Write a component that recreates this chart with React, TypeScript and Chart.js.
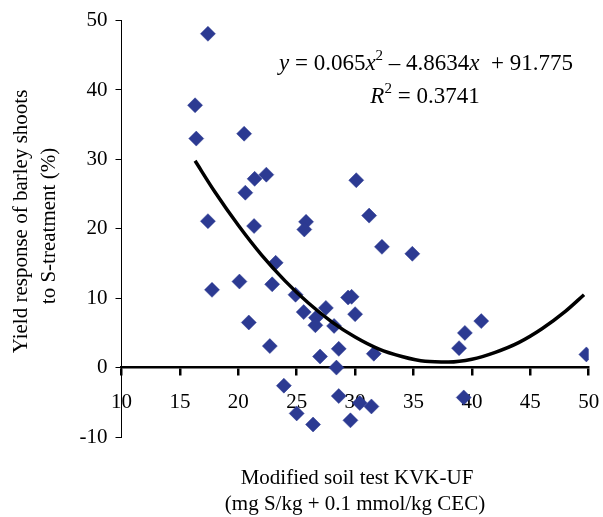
import React, { useEffect, useRef } from 'react';
import { Chart, registerables } from 'chart.js';

Chart.register(...registerables);

// Scatter observations (x: modified soil test KVK-UF, y: yield response %)
const soilTest = [
  17.4, 16.3, 16.4, 20.5, 20.6, 21.4, 22.4, 17.4, 21.35, 25.8, 25.65, 30.1, 31.2,
  32.3, 34.9, 23.2, 20.1, 17.75, 22.9, 24.9, 27.5, 25.6, 26.65, 26.6, 28.2, 29.4,
  29.7, 30.0, 20.9, 22.7, 28.6, 27.0, 31.6, 28.4, 23.9, 28.6, 25.0, 26.4, 29.6,
  30.4, 31.4, 40.8, 39.4, 38.9, 39.3, 49.8,
];
const yieldResponse = [
  48.1, 37.8, 33.0, 33.7, 25.2, 27.2, 27.8, 21.1, 20.4, 21.0, 19.9, 27.0, 21.9,
  17.4, 16.4, 15.1, 12.4, 11.2, 12.0, 10.5, 8.6, 8.0, 7.2, 6.1, 6.0, 10.1,
  10.2, 7.7, 6.5, 3.1, 2.7, 1.6, 2.0, 0.0, -2.6, -4.1, -6.6, -8.2, -7.6,
  -5.1, -5.6, 6.7, 5.0, 2.8, -4.3, 1.9,
];

// Trend curve
const trendX = [16.3, 18, 20, 22, 24, 26, 28, 30, 32, 34, 36, 38, 40, 42, 44, 46, 48, 49.6];
const trendY = [29.8, 25.3, 20.5, 16.2, 12.5, 9.3, 6.6, 4.4, 2.7, 1.6, 0.9, 0.8, 1.2, 2.2, 3.6, 5.6, 8.1, 10.5];

const xTickValues = [10, 15, 20, 25, 30, 35, 40, 45, 50];
const yTickValues = [-10, 0, 10, 20, 30, 40, 50];

const yTitleLines = ['Yield response of barley shoots', 'to S-treatment (%)'];
const xTitleLines = ['Modified soil test KVK-UF', '(mg S/kg + 0.1 mmol/kg CEC)'];
const equationLine = [
  { t: 'y', i: true },
  { t: ' = 0.065' },
  { t: 'x', i: true },
  { t: '2', s: true },
  { t: ' \u2013 4.8634' },
  { t: 'x', i: true },
  { t: '  + 91.775' },
];
const rSquaredLine = [
  { t: 'R', i: true },
  { t: '2', s: true },
  { t: ' = 0.3741' },
];

const FONT = '"Liberation Serif", serif';
const MARKER = '#2C3A92';

type Seg = { t: string; i?: boolean; s?: boolean };

function drawRich(ctx: CanvasRenderingContext2D, segs: Seg[], cx: number, baseline: number, size: number) {
  const fontFor = (s: Seg) =>
    `${s.i ? 'italic ' : 'normal '}normal ${s.s ? Math.round(size * 0.65) : size}px ${FONT}`;
  let total = 0;
  const widths = segs.map((s) => {
    ctx.font = fontFor(s);
    const w = ctx.measureText(s.t).width;
    total += w;
    return w;
  });
  let x = cx - total / 2;
  ctx.textAlign = 'left';
  ctx.textBaseline = 'alphabetic';
  segs.forEach((s, k) => {
    ctx.font = fontFor(s);
    ctx.fillText(s.t, x, s.s ? baseline - size * 0.42 : baseline);
    x += widths[k];
  });
}

const textPlugin = {
  id: 'textPlugin',
  afterDraw(chart: any) {
    const ctx: CanvasRenderingContext2D = chart.ctx;
    ctx.save();
    ctx.fillStyle = '#000';
    ctx.font = `21px ${FONT}`;
    ctx.textAlign = 'center';
    ctx.textBaseline = 'alphabetic';
    // y axis title (rotated)
    const yPos = [
      [27, 221.5],
      [55, 226],
    ];
    yTitleLines.forEach((line, k) => {
      ctx.save();
      ctx.translate(yPos[k][0], yPos[k][1]);
      ctx.rotate(-Math.PI / 2);
      ctx.fillText(line, 0, 0);
      ctx.restore();
    });
    // x axis title
    const xPos = [
      [357, 483.5],
      [355, 510],
    ];
    xTitleLines.forEach((line, k) => {
      ctx.fillText(line, xPos[k][0], xPos[k][1]);
    });
    // equation
    drawRich(ctx, equationLine, 426, 70, 23);
    drawRich(ctx, rSquaredLine, 425, 103, 23);
    ctx.restore();
  },
};

export default function App() {
  const ref = useRef<HTMLCanvasElement>(null);

  useEffect(() => {
    if (!ref.current) return;
    Chart.defaults.font.family = FONT;
    const chart = new Chart(ref.current, {
      type: 'scatter',
      data: {
        datasets: [
          {
            type: 'line',
            label: 'Trend',
            data: trendX.map((x, k) => ({ x, y: trendY[k] })),
            borderColor: '#000',
            borderWidth: 3.5,
            pointRadius: 0,
            fill: false,
            cubicInterpolationMode: 'monotone',
          } as any,
          {
            label: 'Observations',
            data: soilTest.map((x, k) => ({ x, y: yieldResponse[k] })),
            pointStyle: 'rectRot',
            pointRadius: 7.5,
            pointBackgroundColor: MARKER,
            pointBorderColor: MARKER,
            pointBorderWidth: 0.5,
            showLine: false,
          },
        ],
      },
      options: {
        animation: false,
        responsive: true,
        maintainAspectRatio: false,
        layout: { padding: { top: 20, right: 14.3, bottom: 80, left: 0 } },
        plugins: {
          legend: { display: false },
          tooltip: { enabled: false },
        },
        scales: {
          x: {
            type: 'linear',
            position: { y: 0 } as any,
            min: 10,
            max: 50,
            afterBuildTicks: (scale: any) => {
              scale.ticks = xTickValues.map((v) => ({ value: v }));
            },
            afterFit: (scale: any) => {
              scale.paddingLeft = 0;
              scale.paddingRight = 0;
            },
            grid: {
              drawOnChartArea: false,
              drawTicks: true,
              tickLength: 7,
              lineWidth: 2.5,
              color: '#000',
            },
            border: { display: true, width: 2.5, color: '#000' },
            ticks: {
              color: '#000',
              font: { size: 21, family: FONT },
              padding: 15,
              maxRotation: 0,
              autoSkip: false,
            },
          },
          y: {
            type: 'linear',
            position: 'left',
            min: -10,
            max: 50,
            afterBuildTicks: (scale: any) => {
              scale.ticks = yTickValues.map((v) => ({ value: v }));
            },
            afterFit: (scale: any) => {
              scale.width = 121.5;
            },
            grid: {
              drawOnChartArea: false,
              drawTicks: true,
              tickLength: 6,
              lineWidth: 1,
              color: '#000',
            },
            border: { display: true, width: 1, color: '#000' },
            ticks: {
              color: '#000',
              font: { size: 21, family: FONT },
              padding: 8,
              autoSkip: false,
            },
          },
        },
      },
      plugins: [textPlugin],
    });
    const fonts: any = (document as any).fonts;
    if (fonts && fonts.load) {
      Promise.all([
        fonts.load(`21px ${FONT}`),
        fonts.load(`italic 21px ${FONT}`),
      ])
        .then(() => chart.update())
        .catch(() => {});
    }
    return () => chart.destroy();
  }, []);

  return (
    <div style={{ position: 'fixed', left: 0, top: 0, width: 603, height: 517, background: '#fff' }}>
      <canvas ref={ref} />
    </div>
  );
}
